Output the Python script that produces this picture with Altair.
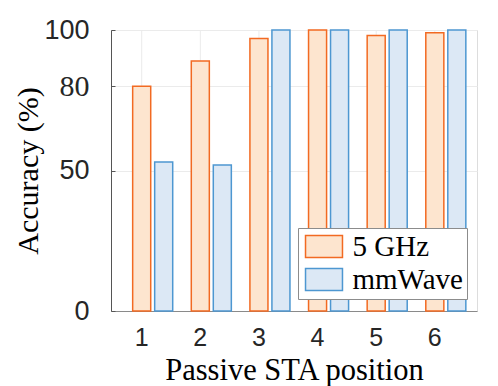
import altair as alt
import pandas as pd

positions = ["1", "2", "3", "4", "5", "6"]
series_names = ["5 GHz", "mmWave"]
ghz5 = [80, 89, 97, 100, 98, 99]
mmwave = [53, 52, 100, 100, 100, 100]
y_ticks = [0, 50, 80, 100]

fills = ["#FDE5CF", "#DCE8F5"]
strokes = ["#F26A22", "#4D97D1"]

rows = []
for i, p in enumerate(positions):
    rows.append({"pos": p, "series": series_names[0], "acc": ghz5[i]})
    rows.append({"pos": p, "series": series_names[1], "acc": mmwave[i]})
df = pd.DataFrame(rows)

sans = "Liberation Sans"
serif = "Liberation Serif"
grid_col = "#EBEBEB"

legend_opts = dict(
    title=None,
    orient="none",
    legendX=187,
    legendY=198,
    strokeColor="#8C8C8C",
    fillColor="#FFFFFF",
    padding=4,
    symbolType="M-1.68,-1H1.68V1H-1.68Z",
    symbolSize=484,
    symbolOffset=7.5,
    symbolStrokeWidth=1.5,
    symbolOpacity=1,
    labelFont=serif,
    labelFontSize=29,
    labelColor="#000000",
    labelOffset=14,
    rowPadding=3,
)

x_scale = alt.Scale(paddingInner=0.317, paddingOuter=0.28, align=0.66)
xo_scale = alt.Scale(domain=series_names, paddingInner=0.18, paddingOuter=0)
y_scale = alt.Scale(domain=[0, 100], nice=False)

x_axis = alt.Axis(
    title="Passive STA position",
    labelAngle=0,
    ticks=False,
    grid=False,
    labelOffset=-11,
    domainColor="#8A8A8A",
    labelFont=sans,
    labelFontSize=25,
    labelColor="#262626",
    labelPadding=14,
    titleFont=serif,
    titleFontSize=30.5,
    titleFontWeight="normal",
    titleColor="#000000",
    titlePadding=5,
)

y_axis = alt.Axis(
    title="Accuracy (%)",
    orient="left",
    values=y_ticks,
    ticks=False,
    grid=True,
    gridColor=grid_col,
    domainColor="#555555",
    labelFont={"condition": {"test": "datum.value === 80", "value": serif}, "value": sans},
    labelFontSize={"condition": {"test": "datum.value === 80", "value": 30}, "value": 27},
    labelColor="#262626",
    labelPadding=22,
    titleFont=serif,
    titleFontSize=30,
    titleFontWeight="normal",
    titleColor="#000000",
    titlePadding=0,
)

# inward tick marks on the left axis (MATLAB style)
y_tick_axis = alt.Axis(
    title=None,
    orient="left",
    values=y_ticks,
    offset=-4,
    domain=False,
    labels=False,
    grid=False,
    ticks=True,
    tickSize=4,
    tickColor="#555555",
    tickWidth=1,
)

base = alt.Chart(df)

# vertical grid lines at the category ticks (centred on the 5 GHz bars)
vgrid = (
    base.transform_filter(alt.datum.series == series_names[0])
    .transform_calculate(low="0")
    .mark_rule(color=grid_col, strokeWidth=1)
    .encode(
        x=alt.X("pos:N", sort=positions, scale=x_scale, axis=x_axis),
        xOffset=alt.XOffset("series:N", sort=series_names, scale=xo_scale),
        y=alt.Y("low:Q", scale=y_scale, axis=None),
        y2=alt.datum(100),
    )
)

bars = base.mark_bar(strokeWidth=1.5, opacity=1).encode(
    x=alt.X("pos:N", sort=positions, scale=x_scale, axis=x_axis),
    xOffset=alt.XOffset("series:N", sort=series_names, scale=xo_scale),
    y=alt.Y("acc:Q", scale=y_scale, axis=y_axis),
    fill=alt.Fill(
        "series:N",
        sort=series_names,
        scale=alt.Scale(domain=series_names, range=fills),
        legend=alt.Legend(**legend_opts),
    ),
    stroke=alt.Stroke(
        "series:N",
        sort=series_names,
        scale=alt.Scale(domain=series_names, range=strokes),
        legend=alt.Legend(**legend_opts),
    ),
)

ticks_layer = base.mark_point(opacity=0).encode(
    y=alt.Y("acc:Q", scale=y_scale, axis=y_tick_axis),
)

chart = alt.layer(vgrid, bars, ticks_layer).resolve_axis(y="independent").properties(
    width=366,
    height=281,
    autosize=alt.AutoSizeParams(type="none"),
    padding={"left": 103, "top": 22, "right": 13, "bottom": 75},
).configure_view(stroke=None).configure(background="#FFFFFF")

chart.save("out.html", embed_options={"renderer": "svg", "actions": False})
